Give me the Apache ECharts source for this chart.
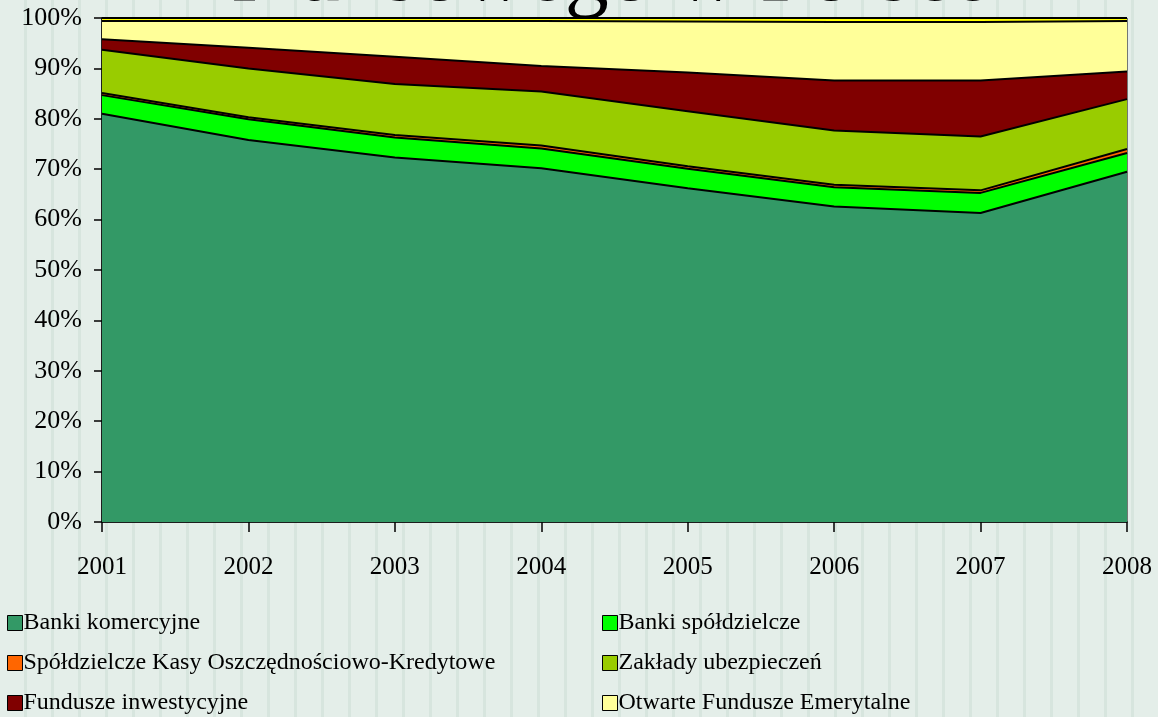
<!DOCTYPE html>
<html>
<head>
<meta charset="utf-8">
<script src="https://cdn.jsdelivr.net/npm/echarts@6/dist/echarts.min.js"></script>
<style>
  html, body {
    margin: 0;
    padding: 0;
    background: repeating-linear-gradient(90deg, #e4eee9 0px, #e4eee9 24px, #d7e5de 24px, #d7e5de 27px);
  }
  #chart {
    width: 1158px;
    height: 717px;
  }
</style>
</head>
<body>
<div id="chart"></div>
<script>
const years = ["2001", "2002", "2003", "2004", "2005", "2006", "2007", "2008"];

// udziały w aktywach (%)
const bankiKomercyjne = [81.0, 75.8, 72.3, 70.2, 66.2, 62.6, 61.3, 69.5];
const bankiSpoldzielcze = [3.7, 4.1, 4.0, 3.9, 3.9, 3.8, 4.0, 3.7];
const skok = [0.4, 0.4, 0.5, 0.6, 0.5, 0.5, 0.5, 0.8];
const zakladyUbezpieczen = [8.6, 9.7, 10.1, 10.7, 10.9, 10.8, 10.7, 9.9];
const funduszeInwestycyjne = [2.1, 4.1, 5.4, 5.1, 7.7, 9.9, 11.1, 5.5];
const ofe = [3.6, 5.3, 7.1, 8.9, 10.1, 11.6, 11.6, 10.0];
const pozostale = [0.6, 0.6, 0.6, 0.6, 0.7, 0.8, 0.8, 0.6];

const legendLeft = ["Banki komercyjne", "Spółdzielcze Kasy Oszczędnościowo-Kredytowe", "Fundusze inwestycyjne"];
const legendRight = ["Banki spółdzielcze", "Zakłady ubezpieczeń", "Otwarte Fundusze Emerytalne"];

const font = "Liberation Serif";

function area(name, data, color) {
  return {
    name: name,
    type: "line",
    stack: "total",
    data: data,
    symbol: "none",
    color: color,
    lineStyle: { color: "#000", width: 2 },
    areaStyle: { color: color, opacity: 1 },
  };
}

function legendColumn(left, names) {
  return {
    orient: "vertical",
    left: left,
    top: 606,
    height: 112,
    itemWidth: 15,
    itemHeight: 15,
    itemGap: 16,
    icon: "rect",
    itemStyle: { borderColor: "#000", borderWidth: 1 },
    textStyle: { color: "#000", fontSize: 24, fontFamily: font, padding: [0, 0, 0, -4] },
    data: names,
  };
}

const chart = echarts.init(document.getElementById("chart"));
chart.setOption({
  backgroundColor: "transparent",
  animation: false,
  textStyle: { fontFamily: font },
  graphic: [
    {
      type: "text",
      left: 203,
      top: -67,
      style: {
        text: "finansowego w Polsce",
        font: "88px " + font,
        fill: "#000",
      },
    },
  ],
  grid: {
    left: 102,
    right: 31,
    top: 18,
    bottom: 195,
    show: true,
    borderColor: "#000",
    borderWidth: 1,
  },
  xAxis: {
    type: "category",
    data: years,
    boundaryGap: false,
    axisLine: { lineStyle: { color: "#000", width: 1.5 } },
    axisTick: { length: 10, lineStyle: { color: "#000", width: 1.5 } },
    axisLabel: { color: "#000", fontSize: 25, margin: 33, fontFamily: font },
    splitLine: { show: false },
  },
  yAxis: {
    type: "value",
    min: 0,
    max: 100,
    interval: 10,
    axisLine: { show: true, lineStyle: { color: "#000", width: 1.5 } },
    axisTick: { show: true, length: 8, lineStyle: { color: "#000", width: 1.5 } },
    axisLabel: { color: "#000", fontSize: 26, margin: 20, formatter: "{value}%", fontFamily: font },
    splitLine: { show: false },
  },
  legend: [legendColumn(2, legendLeft), legendColumn(597, legendRight)],
  series: [
    area("Banki komercyjne", bankiKomercyjne, "#339966"),
    area("Banki spółdzielcze", bankiSpoldzielcze, "#00ff00"),
    area("Spółdzielcze Kasy Oszczędnościowo-Kredytowe", skok, "#ff6600"),
    area("Zakłady ubezpieczeń", zakladyUbezpieczen, "#99cc00"),
    area("Fundusze inwestycyjne", funduszeInwestycyjne, "#800000"),
    area("Otwarte Fundusze Emerytalne", ofe, "#ffff99"),
    area("Pozostałe", pozostale, "#ffff00"),
  ],
});
</script>
</body>
</html>
